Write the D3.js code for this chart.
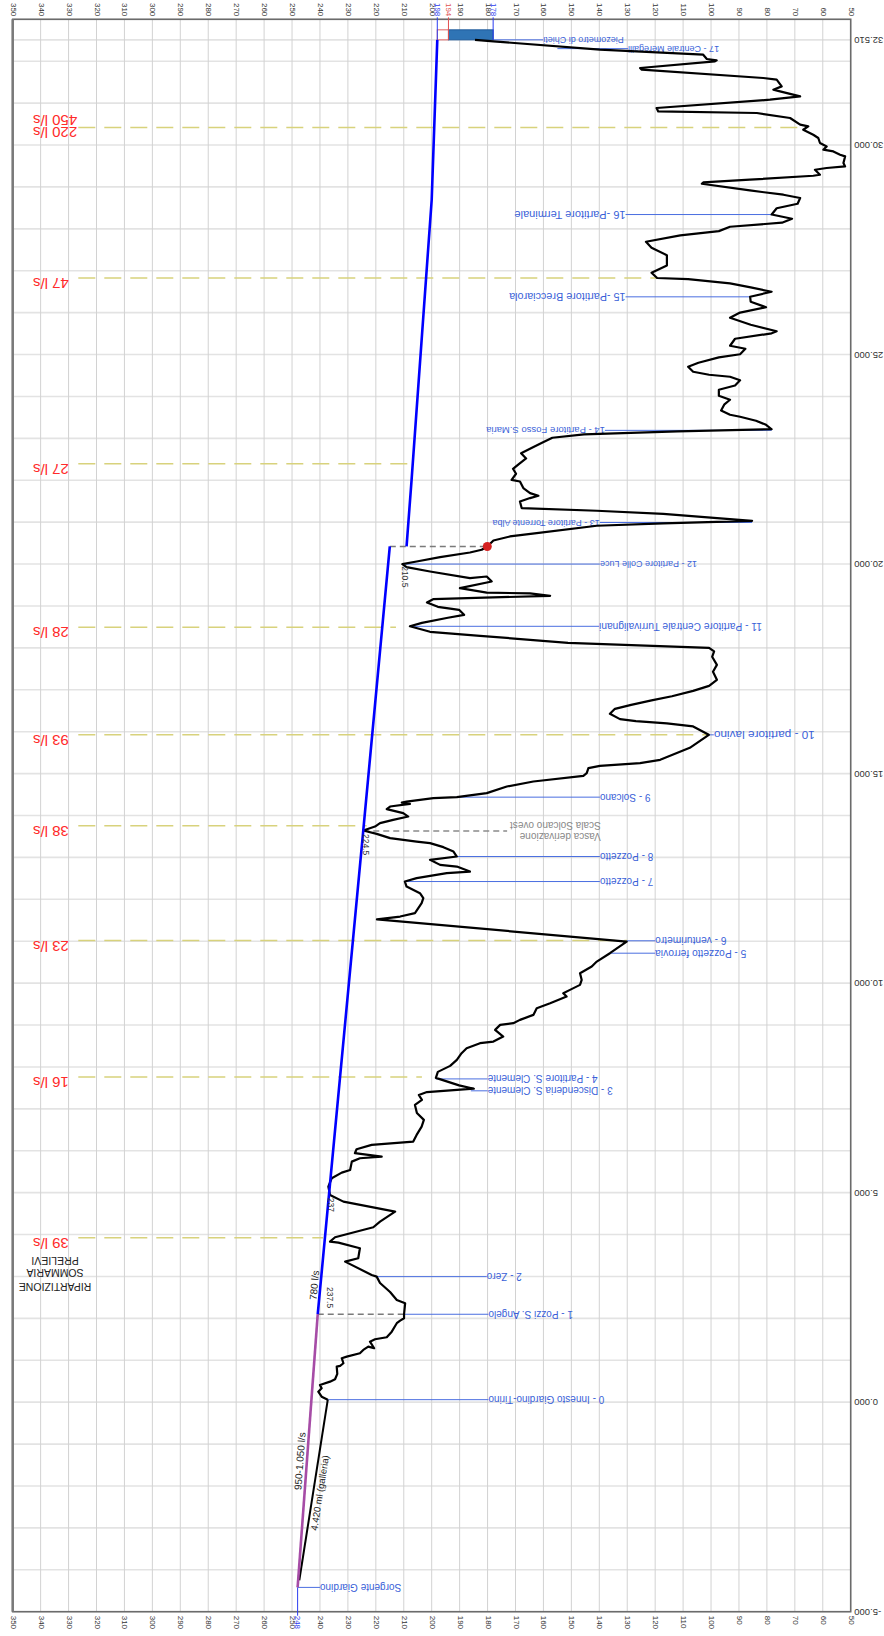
<!DOCTYPE html>
<html><head><meta charset="utf-8">
<script src="https://cdn.jsdelivr.net/npm/d3@7"></script>
<style>body{margin:0;background:#fff;} svg{display:block;font-family:"Liberation Sans",Arial,sans-serif;}</style>
</head><body>
<svg id="c" width="884" height="1636"></svg>
<script>
// ---------------- DATA ----------------
const elevTicks = d3.range(50, 351, 10);
const distGrid = d3.range(-5000, 33001, 1000).concat([32510]);
const distLabels = [-5000, 0, 5000, 10000, 15000, 20000, 25000, 30000, 32510];

// terrain / pipe profile (progressive m, elevation m)
const profDist = [60,131,251,332,411,490,547,674,848,865,929,1049,1087,1168,1247,1325,1287,1444,1501,1549,1683,1819,1884,1946,2003,2098,2361,2440,2628,2845,2996,3036,3354,3434,3673,3807,3831,3936,4175,4309,4547,4786,4946,5144,5344,5478,5542,5740,5821,5860,5941,6036,6139,6218,6378,6577,6736,
6903,7094,7213,7330,7400,7480,7560,7738,7882,8025,8168,8328,8447,8567,8605,8724,8884,9003,9044,9123,9242,9402,9521,9679,9760,9839,9958,10077,10237,10395,10514,10714,10991,
11521,11589,11669,11908,12027,12147,12305,12424,12505,12624,12662,12782,12822,12942,13021,13140,13245,13340,13378,13459,13562,13641,13736,13817,13896,13975,14056,14152,14214,14278,14309,14333,14414,14438,14533,14691,14811,14947,15011,15130,15185,15249,15329,15615,15925,
16126,16200,16250,16300,16426,16546,16641,16746,16846,16975,17094,17238,17429,17595,17787,17916,18002,18121,18288,18384,18515,18598,18718,18789,18909,18980,19085,19162,19243,19300,19320,19426,19584,19703,19665,19823,19927,20000,
20061,20166,20276,20341,20419,20563,20659,20739,20914,20973,21033,21200,21272,21336,21494,21575,21630,21694,21813,21971,22011,
22155,22274,22393,22520,22644,22775,22895,23014,23093,23167,23217,23324,23420,23515,23563,23665,23813,23921,24016,24160,24262,24386,24470,24518,24589,24709,24804,24933,25007,25138,25210,25377,25506,25556,25711,25878,26002,26129,26260,26379,26499,26601,26699,26799,26826,26952,27124,27372,27549,27692,27845,27945,28050,28146,28241,28341,28492,28599,
28735,28814,28916,29076,29107,29172,29267,29291,29410,29451,29489,29570,29728,29769,29847,29888,29967,30048,30167,30246,30365,30444,30485,30644,30764,30802,30883,31081,31160,31279,31320,31399,31559,31599,31797,31838,31995,32019,32053,32155,32275,32473,32510];
const profElev = [237.2,239.4,240.6,239.4,240.0,236.4,234.6,233.8,234.0,232.8,231.6,232.2,230.4,225.7,224.5,222.7,220.6,222.1,220.3,216.1,214.3,213.1,212.5,211.3,209.9,209.9,209.5,212.5,214.9,218.5,219.7,221.5,231.0,226.3,225.7,233.4,236.4,234.6,220.9,218.5,213.1,231.6,236.4,237.0,235.8,232.2,229.2,228.6,225.7,217.9,227.5,226.9,221.5,206.6,205.4,203.6,202.8,
205.3,206.0,203.5,204.6,201.7,184.9,190.2,198.5,197.8,193.4,191.0,189.3,187.5,182.7,177.9,174.4,177.3,175.5,170.8,168.4,163.6,162.4,157.6,151.7,152.9,150.5,146.9,146.3,146.9,142.7,140.9,136.2,130.2,
219.6,211.3,206.0,203.6,203.0,204.2,209.0,209.6,205.4,194.6,186.3,191.0,197.0,200.6,191.0,192.2,195.8,200.6,205.4,214.9,219.7,224.5,220.3,218.5,213.8,208.4,210.2,216.1,214.9,207.8,210.7,209.0,199.4,191.0,180.3,173.1,163.6,145.7,144.5,143.9,139.8,125.4,118.2,107.6,100.8,
106.4,115.8,126.9,132.6,136.2,134.4,128.6,121.3,114.0,106.4,100.7,97.9,99.3,97.9,99.6,98.9,100.7,151.2,182.7,200.6,207.8,203.5,194.2,188.4,190.2,197.8,201.7,199.5,157.6,164.8,180.3,189.9,178.5,180.3,186.3,200.6,209.0,210.5,
205.4,197.0,186.3,182.1,180.1,177.9,172.0,162.4,140.9,117.1,85.3,117.1,140.9,167.8,168.4,164.8,161.8,164.8,167.2,168.4,171.4,
169.8,170.9,168.7,166.2,168.0,164.1,160.5,156.8,145.5,112.0,78.3,80.3,83.9,89.6,93.2,96.4,95.2,93.2,97.2,97.2,91.4,89.6,93.2,100.7,106.4,108.2,104.5,97.2,89.6,87.7,93.2,91.4,78.3,76.5,85.8,93.2,89.6,80.3,85.8,86.0,78.3,85.8,93.2,108.2,119.3,121.3,115.8,115.8,121.3,123.3,111.0,97.2,93.2,74.6,71.0,78.3,76.5,69.0,
68.1,74.1,86.1,103.3,102.8,86.1,63.4,61.0,62.8,58.6,52.0,52.6,52.0,53.8,56.2,59.8,58.6,61.0,61.6,63.4,67.0,65.2,68.1,71.7,83.6,118.9,119.5,78.9,68.1,75.3,77.7,74.7,76.5,81.3,124.8,125.4,98.6,98.0,101.5,102.8,139.8,177.9,184.5];

// gallery from the spring to the junction
const pipeDist = [-4250, 60];
const pipeElev = [247.4, 237.2];
// hydraulic lines
const purpleDist = [-4420, 2100];
const purpleElev = [248, 240.8];
const blueLowDist = [2100, 4789, 13641, 20420];
const blueLowElev = [240.8, 237.0, 224.5, 215.0];
const blueUpDist = [20420, 22011, 28694, 32510];
const blueUpElev = [209.0, 207.2, 200.0, 198.0];

// labelled points
const ptNames = ["Sorgente Giardino","0 - Innesto Giardino-Tirino","1 - Pozzi S. Angelo","2 - Zero","3 - Discenderia S. Clemente","4 - Partitore S. Clemente","5 - Pozzetto ferrovia","6 - venturimetro","7 - Pozzetto","8 - Pozzetto","9 - Solcano","10 - partitore lavino","11 - Partitore Centrale Turrivalignani","12 - Partitore Colle Luce","13 - Partitore Torrente Alba","14 - Partitore Fosso S.Maria","15 -Partitore Brecciarola","16 -Partitore Terminale","17 - Centrale Meregalli","Piezometro di Chieti"];
const ptDist = [-4420,60,2098,2996,7430,7714,10714,11010,12424,13021,14438,15925,18515,20000,20992,23191,26377,28341,32300,32510];
const ptElevFrom = [248,237.2,209.9,219.7,186,198.5,136.2,130.2,209.6,191.0,191.0,100.8,207.8,210.5,85.3,78.3,86,78,155,178];
const ptElevTo = [240,179.7,179.7,180.3,180,180,120,120,139.8,139.8,139.8,99,140.1,139.8,139.8,138,130.6,130.6,129.7,160.1];
const ptFont = [10,10,10,10,10,10,10.2,10.2,10,10,10,11.8,10.2,9,9,9.5,10.8,11,9,9];

// flow split
const flowText = ["39 l/s","16 l/s","23 l/s","38 l/s","93 l/s","28 l/s","27 l/s","47 l/s","220 l/s"];
const flowDist = [3926,7762,11015,13753,15925,18495,22395,26825,30420];
const flowEnd = [238.9,203.5,130,223.3,101,212.8,208,119.3,69];

// small value labels
const valText = ["237.5", "237", "224.5", "210.5"];
const valDist = [2750, 4880, 13560, 19950];
const valElev = [237.5, 237.0, 224.5, 210.5];

// ---------------- DRAW ----------------
const svg = d3.select('#c');
const xS = d3.scaleLinear().domain([350, 50]).range([12.7, 850.7]);
const yS = d3.scaleLinear().domain([-5000, 33000]).range([1611.7, 19.3]);
const X0 = xS(350), X1 = xS(50), Y0 = yS(33000), Y1 = yS(-5000);

// grid
svg.append('g').selectAll('line').data(distGrid).join('line')
  .attr('x1', X0).attr('x2', X1).attr('y1', d => yS(d)).attr('y2', d => yS(d))
  .attr('stroke', '#e3e3e3').attr('stroke-width', 1.6);
svg.append('g').selectAll('line').data(elevTicks).join('line')
  .attr('x1', d => xS(d)).attr('x2', d => xS(d)).attr('y1', Y0).attr('y2', Y1)
  .attr('stroke', '#d2d2d2').attr('stroke-width', 1);

// frame
svg.append('rect').attr('x', X0).attr('y', Y0).attr('width', X1 - X0).attr('height', Y1 - Y0)
  .attr('fill', 'none').attr('stroke', '#6b6b6b').attr('stroke-width', 1.6);
svg.append('line').attr('x1', X0).attr('x2', X0).attr('y1', Y0).attr('y2', Y1)
  .attr('stroke', '#7a7a7a').attr('stroke-width', 2.5);

// elevation tick labels (top & bottom)
const topAx = svg.append('g').attr('transform', `translate(0,${Y0})`)
  .call(d3.axisTop(xS).tickValues(elevTicks).tickSize(0).tickPadding(0).tickFormat(d3.format('d')));
topAx.select('.domain').remove();
topAx.selectAll('text').attr('fill', '#333').attr('font-size', 8).attr('text-anchor', 'end')
  .attr('dy', null).attr('y', 0)
  .attr('transform', 'translate(0,-3) rotate(90)').attr('dominant-baseline', 'central');
const botAx = svg.append('g').attr('transform', `translate(0,${Y1})`)
  .call(d3.axisBottom(xS).tickValues(elevTicks).tickSize(0).tickPadding(0).tickFormat(d3.format('d')));
botAx.select('.domain').remove();
botAx.selectAll('text').attr('fill', '#333').attr('font-size', 8).attr('text-anchor', 'start')
  .attr('dy', null).attr('y', 0)
  .attr('transform', 'translate(0,4) rotate(90)').attr('dominant-baseline', 'central');

// distance labels (right)
const rAx = svg.append('g').attr('transform', `translate(${X1},0)`)
  .call(d3.axisRight(yS).tickValues(distLabels).tickSize(0).tickPadding(0)
    .tickFormat(d => (d / 1000).toFixed(3)));
rAx.select('.domain').remove();
rAx.selectAll('text').attr('fill', '#333').attr('font-size', 9.5).attr('x', 0).attr('dy', null)
  .attr('text-anchor', 'end').attr('dominant-baseline', 'central')
  .attr('transform', 'translate(3.5,0) rotate(180)');

// flow dashed lines
flowDist.forEach((d, i) => {
  svg.append('line').attr('x1', 78.3).attr('x2', xS(flowEnd[i]))
    .attr('y1', yS(d)).attr('y2', yS(d))
    .attr('stroke', '#d8d27c').attr('stroke-width', 1.5).attr('stroke-dasharray', '17,9');
  svg.append('text').attr('x', 33).attr('y', yS(d)).text(flowText[i])
    .attr('fill', '#ff2a2a').attr('font-size', 15).attr('text-anchor', 'end')
    .attr('transform', `rotate(180,33,${yS(d)})`);
});
svg.append('text').attr('x', 33).attr('y', yS(30420) - 12.5).text('450 l/s')
  .attr('fill', '#ff2a2a').attr('font-size', 15).attr('text-anchor', 'end')
  .attr('transform', `rotate(180,33,${yS(30420) - 12.5})`);

// title block
[['PRELIEVI', 1260.5], ['SOMMARIA', 1273], ['RIPARTIZIONE', 1287]].forEach(([t, yy]) => {
  svg.append('text').attr('x', 55).attr('y', yy).text(t).attr('font-size', 10.5).attr('fill', '#222')
    .attr('text-anchor', 'middle').attr('dominant-baseline', 'central')
    .attr('transform', `rotate(180,55,${yy})`);
});

// leaders & labels
ptNames.forEach((n, i) => {
  const yy = yS(ptDist[i]), xa = xS(ptElevFrom[i]), xb = xS(ptElevTo[i]);
  svg.append('line').attr('x1', xa).attr('x2', xb).attr('y1', yy).attr('y2', yy)
    .attr('stroke', '#4a6ee0').attr('stroke-width', 1);
  svg.append('text').attr('x', xb).attr('y', yy).text(n).attr('fill', '#3a5fd8')
    .attr('font-size', ptFont[i]).attr('dominant-baseline', 'central')
    .attr('text-anchor', xb > xa ? 'end' : 'start')
    .attr('transform', `rotate(180,${xb},${yy})`);
});

// Vasca derivazione (grey)
svg.append('line').attr('x1', xS(224.5)).attr('x2', xS(173)).attr('y1', yS(13630)).attr('y2', yS(13630))
  .attr('stroke', '#8a8a8a').attr('stroke-width', 1.4).attr('stroke-dasharray', '6,4');
[['Scala Solcano ovest', 13630 + 140], ['Vasca derivazione', 13630 - 120]].forEach(([t, d]) => {
  const xx = xS(139.5), yy = yS(d);
  svg.append('text').attr('x', xx).attr('y', yy).text(t).attr('fill', '#888').attr('font-size', 10)
    .attr('dominant-baseline', 'central').attr('text-anchor', 'start')
    .attr('transform', `rotate(180,${xx},${yy})`);
});

// grey dashed connectors
svg.append('line').attr('x1', xS(240.8)).attr('x2', xS(209.9)).attr('y1', yS(2098)).attr('y2', yS(2098))
  .attr('stroke', '#7a7a7a').attr('stroke-width', 1.6).attr('stroke-dasharray', '6,4');
svg.append('line').attr('x1', xS(215)).attr('x2', xS(180.1)).attr('y1', yS(20419)).attr('y2', yS(20419))
  .attr('stroke', '#7a7a7a').attr('stroke-width', 1.6).attr('stroke-dasharray', '6,4');

// top: piezometer box and markers
const yTop = yS(32510);
svg.append('rect').attr('x', xS(198)).attr('y', yTop - 10).attr('width', xS(194) - xS(198)).attr('height', 10)
  .attr('fill', '#fff').attr('stroke', '#e06060').attr('stroke-width', 1);
svg.append('rect').attr('x', xS(194)).attr('y', yTop - 10).attr('width', xS(178) - xS(194)).attr('height', 10)
  .attr('fill', '#2f74b5').attr('stroke', '#1f5c9c').attr('stroke-width', 1);
[[198, '#2b3cf0'], [194, '#e05050'], [178, '#2b3cf0']].forEach(([v, c]) => {
  svg.append('line').attr('x1', xS(v)).attr('x2', xS(v)).attr('y1', yTop).attr('y2', Y0 - 2)
    .attr('stroke', c).attr('stroke-width', 1);
  svg.append('text').attr('x', 0).attr('y', 0).text(v).attr('fill', c).attr('font-size', 8)
    .attr('text-anchor', 'end').attr('dominant-baseline', 'central')
    .attr('transform', `translate(${xS(v)},${Y0 - 3}) rotate(90)`);
});
svg.append('line').attr('x1', xS(248)).attr('x2', xS(248)).attr('y1', yS(-4420)).attr('y2', Y1 + 4)
  .attr('stroke', '#2b3cf0').attr('stroke-width', 1);
svg.append('text').attr('x', 0).attr('y', 0).text('248').attr('fill', '#2b3cf0').attr('font-size', 8)
  .attr('text-anchor', 'start').attr('dominant-baseline', 'central')
  .attr('transform', `translate(${xS(248)},${Y1 + 4}) rotate(90)`);

// lines
const line = d3.line().x(p => xS(p[1])).y(p => yS(p[0]));
const zip = (a, b) => a.map((v, i) => [v, b[i]]);
svg.append('path').attr('d', line(zip(pipeDist, pipeElev))).attr('fill', 'none').attr('stroke', '#000').attr('stroke-width', 2);
svg.append('path').attr('d', line(zip(profDist, profElev))).attr('fill', 'none').attr('stroke', '#000')
  .attr('stroke-width', 2.2).attr('stroke-linejoin', 'round');
svg.append('path').attr('d', line(zip(purpleDist, purpleElev))).attr('fill', 'none').attr('stroke', '#a64ca6').attr('stroke-width', 2.6);
svg.append('path').attr('d', line(zip(blueLowDist, blueLowElev))).attr('fill', 'none').attr('stroke', '#0000ff').attr('stroke-width', 2.6);
svg.append('path').attr('d', line(zip(blueUpDist, blueUpElev))).attr('fill', 'none').attr('stroke', '#0000ff').attr('stroke-width', 2.6);

svg.append('circle').attr('cx', xS(180.1)).attr('cy', yS(20419)).attr('r', 4.5).attr('fill', '#d42020');

// along-line texts
function alongText(t, d0, e0, d1, e1, dFrac, off, fs) {
  const xa = xS(e0), ya = yS(d0), xb = xS(e1), yb = yS(d1);
  const ang = Math.atan2(yb - ya, xb - xa) * 180 / Math.PI;
  const px = xa + (xb - xa) * dFrac, py = ya + (yb - ya) * dFrac;
  svg.append('text').attr('x', 0).attr('y', off).text(t).attr('font-size', fs).attr('fill', '#222')
    .attr('text-anchor', 'middle')
    .attr('transform', `translate(${px},${py}) rotate(${ang})`);
}
alongText('950-1.050 l/s', -4420, 248, 2100, 240.8, 0.46, -3.5, 10);
alongText('4.420 ml (galleria)', -4250, 247.4, 60, 237.2, 0.49, 10, 9.5);
alongText('780 l/s', 2100, 240.8, 20420, 215, 0.037, -2.5, 10);

// small value labels
valText.forEach((t, i) => {
  svg.append('text').attr('x', 0).attr('y', 0).text(t).attr('font-size', 8.5).attr('fill', '#333')
    .attr('text-anchor', 'start')
    .attr('transform', `translate(${xS(valElev[i])},${yS(valDist[i])}) rotate(90)`);
});
</script>
</body></html>
